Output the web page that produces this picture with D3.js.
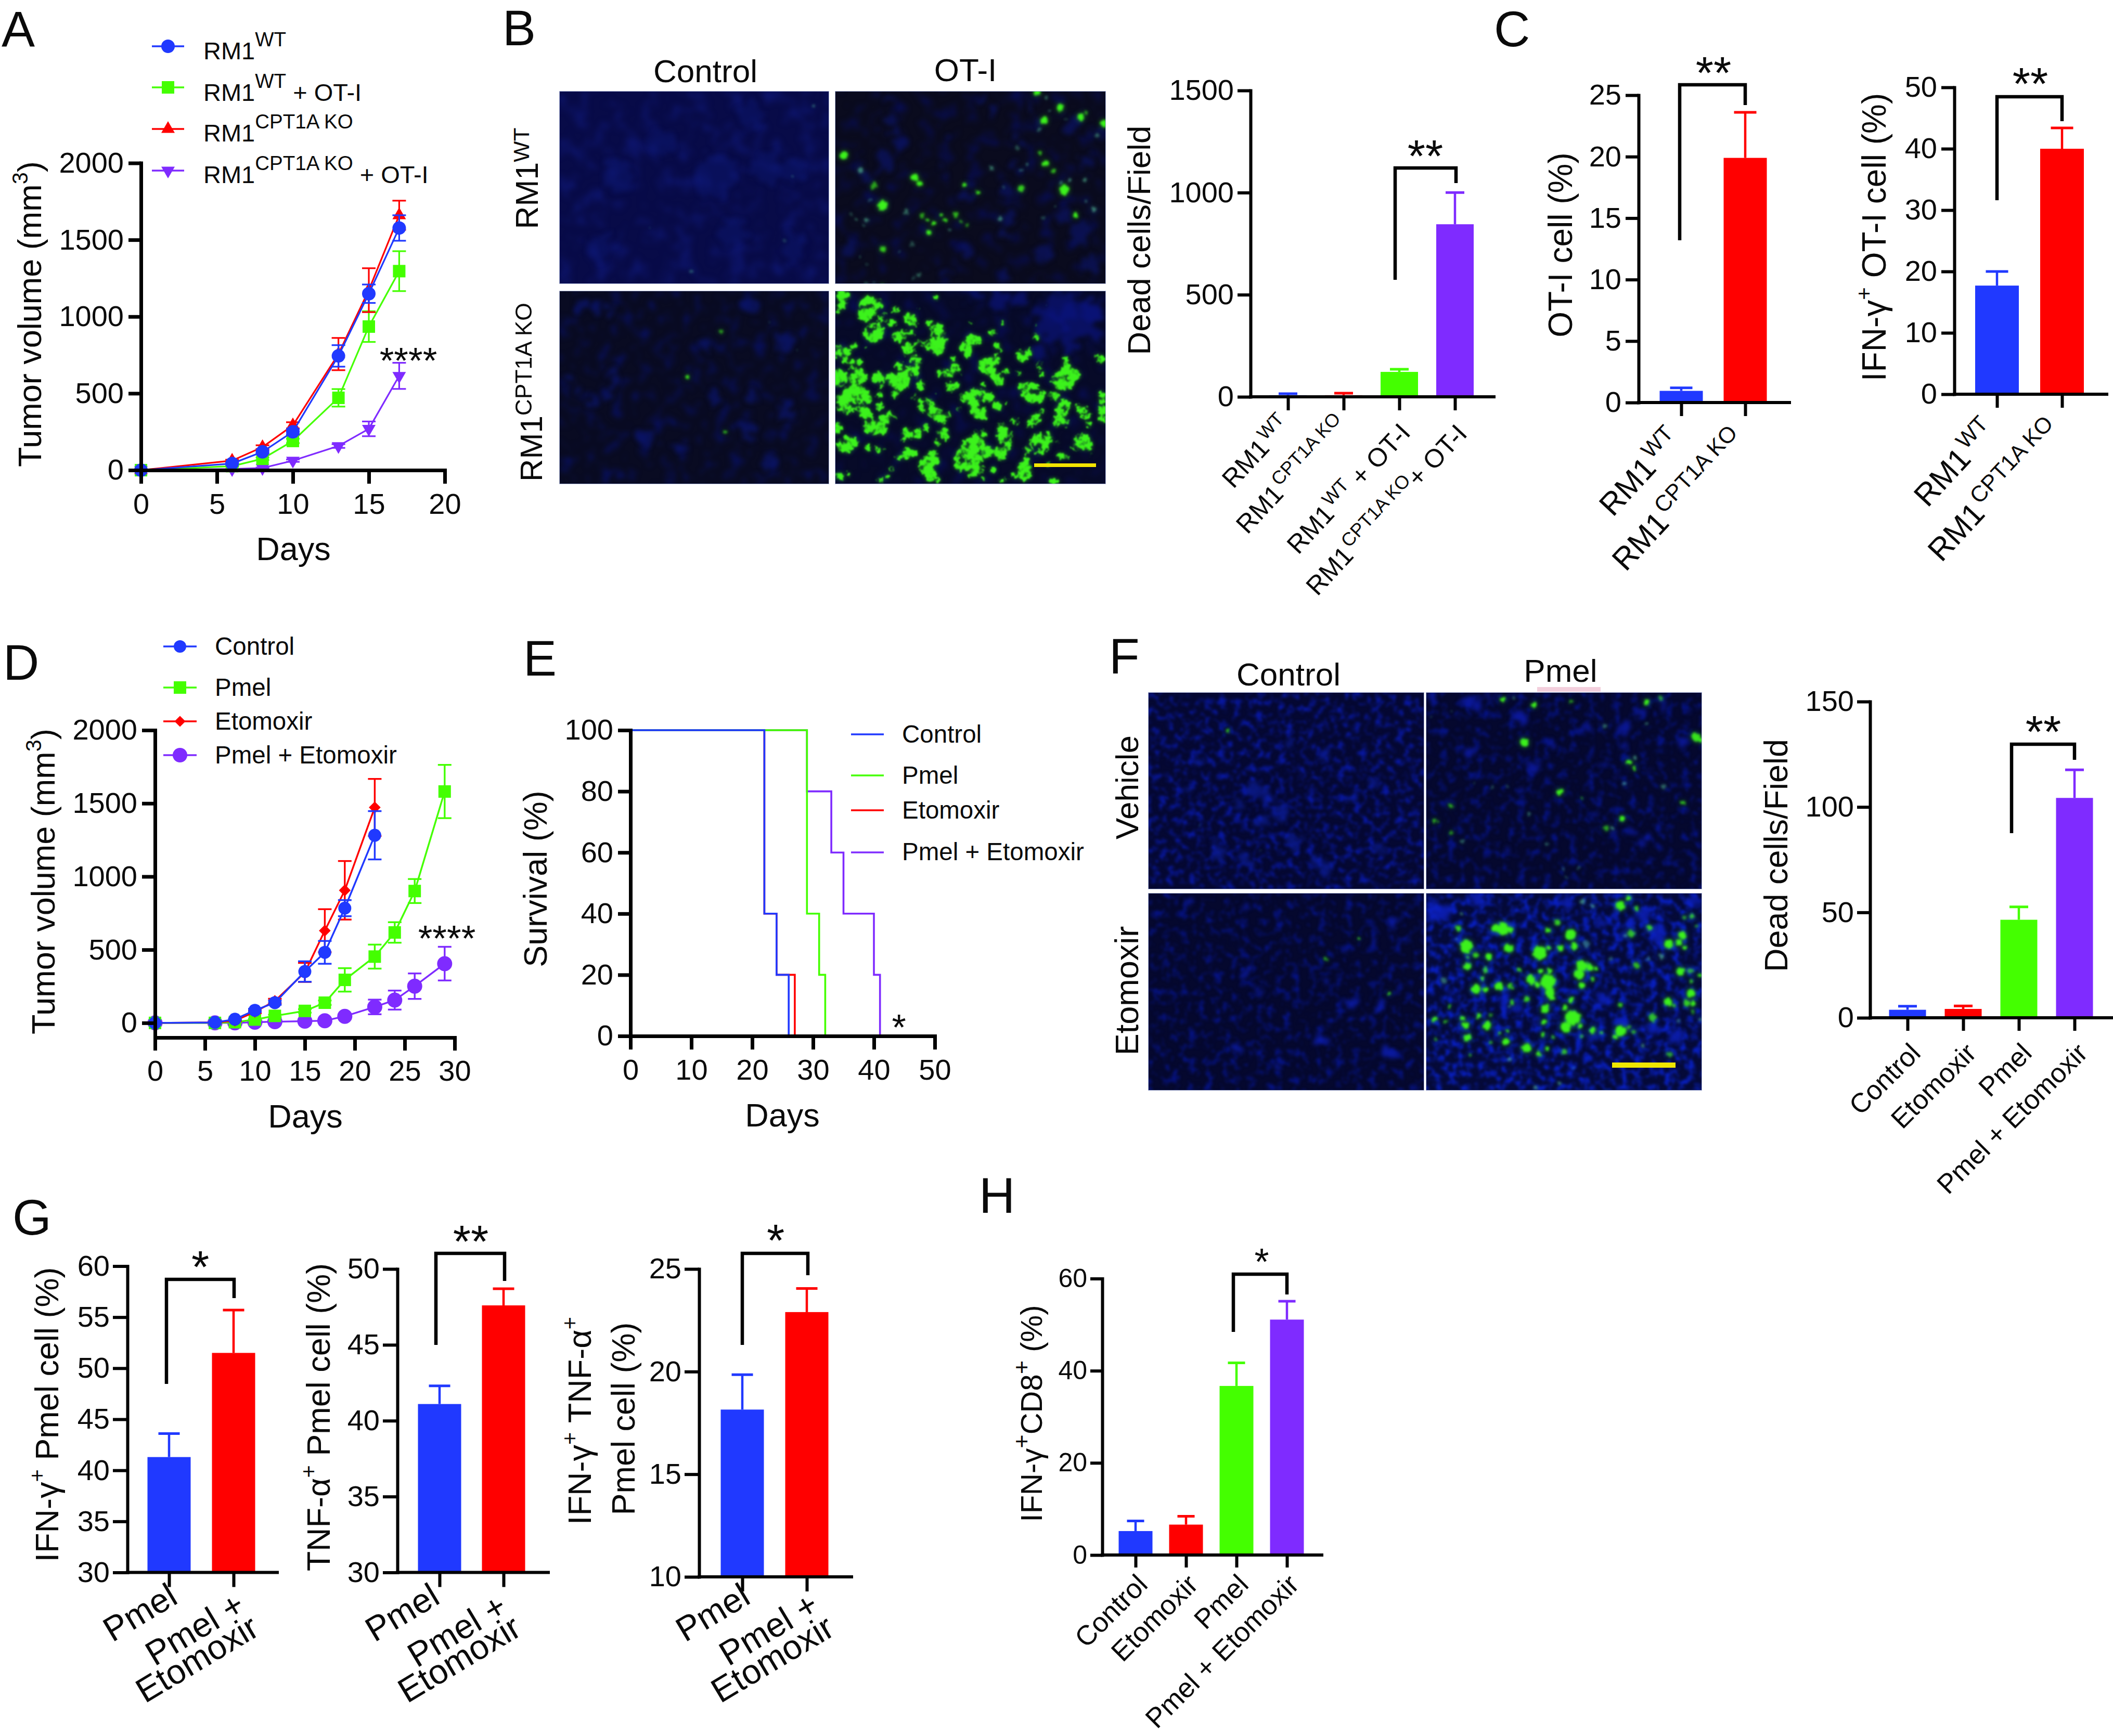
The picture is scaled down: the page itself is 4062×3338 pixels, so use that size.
<!DOCTYPE html>
<html><head><meta charset="utf-8">
<script src="https://cdn.jsdelivr.net/npm/d3@7"></script>
<style>html,body{margin:0;background:#fff}svg{display:block}text{white-space:pre;font-family:"Liberation Sans",Arial,sans-serif;fill:#0a0a0a}</style>
</head><body><svg id="fig" width="4062" height="3338"></svg>
<script>
// ---------- colours ----------
const BLUE="#2039ff",GREEN="#44ff00",RED="#ff0000",PURPLE="#7f2bff";
// ---------- panel A ----------
const aDays=[0,6,8,10,13,15,17];
const aWT=[0,43,119,250,744,1149,1577],aWTErr=[0,4,10,18,70,60,83];
const aWTOT=[0,26,74,190,471,935,1296],aWTOTErr=[0,3,8,14,57,100,130];
const aKO=[0,62,150,292,756,1172,1660],aKOErr=[0,6,12,20,105,143,95];
const aKOOT=[0,7,14,62,157,269,614],aKOOTErr=[0,1,3,8,12,48,85];
const aLegend=["RM1^{WT}","RM1^{WT} + OT-I","RM1^{CPT1A KO}","RM1^{CPT1A KO} + OT-I"];
// ---------- panel D ----------
const dDays=[0,6,8,10,12,15,17,19,22],dDaysLong=[0,6,8,10,12,15,17,19,22,24,26,29];
const dControl=[0,3,25,86,138,351,482,784,1282],dControlErr=[0,2,5,10,14,70,78,55,165];
const dEto=[0,3,15,75,150,345,630,906,1472],dEtoErr=[0,2,4,9,15,65,147,200,195];
const dPmel=[0,0,5,23,48,82,138,294,453,618,901,1581],dPmelErr=[0,1,2,5,8,12,15,80,82,70,82,182];
const dCombo=[0,0,0,5,8,12,15,45,109,156,251,405],dComboErr=[0,1,1,2,2,3,4,8,50,65,87,115];
const groups=["Control","Pmel","Etomoxir","Pmel + Etomoxir"];
// ---------- panel E ----------
const eControlT=[0,22,24,26],eControlS=[100,40,20,0];
const ePmelT=[0,29,31,32],ePmelS=[100,40,20,0];
const eEtoT=[0,22,24,27],eEtoS=[100,40,20,0];
const eComboT=[0,29,33,35,40,41],eComboS=[100,80,60,40,20,0];
// ---------- bar panels ----------
const bCats=["RM1\u200a^{WT}","RM1\u200a^{CPT1A KO}","RM1\u200a^{WT} + OT-I","RM1\u200a^{CPT1A KO}+ OT-I"];
const bVals=[8,8,122,845],bErrs=[7,10,13,155];
const c1Cats=["RM1\u200a^{WT}","RM1\u200a^{CPT1A KO}"];
const c1Vals=[0.95,19.9],c1Errs=[0.25,3.7];
const c2Vals=[17.7,40.0],c2Errs=[2.3,3.4];
const fCats=["Control","Etomoxir","Pmel","Pmel + Etomoxir"];
const fVals=[3.8,4.2,46.5,104.3],fErrs=[1.7,1.4,6.1,13.3];
const gCats=["Pmel","Pmel +|Etomoxir"];
const g1Vals=[41.3,51.5],g1Errs=[2.3,4.2];
const g2Vals=[41.1,47.6],g2Errs=[1.2,1.1];
const g3Vals=[18.15,22.9],g3Errs=[1.7,1.15];
const hVals=[5.2,6.6,36.7,51.1],hErrs=[2.2,1.8,5.0,4.0];
// ---------- micrograph texture (blobs: x, y, r, opacity; in crop space) ----------
const spotsBTR=[[65,380,22],[468,505,20],[498,540,14],[285,665,28],[1320,578,26],[1165,20,18],[1295,110,20],[1410,162,18],[1205,183,20],[1545,200,20],[1215,428,18],[1260,468,14,.7],[1075,570,20,.8],[830,595,12],[752,550,12],[1383,723,12],[550,822,14],[288,915,18,.8],[235,555,20,.6],[160,465,14,.5],[195,750,13,.5],[420,700,14,.4],[620,722,10],[640,750,10],[580,765,12],[540,750,8],[510,725,10,.6],[700,720,14,.7],[735,755,10,.6],[768,778,10,.6],[668,803,9,.4],[1180,368,12,.7],[1108,433,10,.5],[1075,463,9,.4],[1445,135,10,.6],[1300,535,9,.5],[1352,520,10,.5],[1440,520,13,.5],[1485,685,14,.5],[1445,642,9,.4],[1505,268,10,.4],[1175,233,10,.4],[1235,125,9,.4],[1220,52,8,.4],[905,452,11,.5],[955,742,9,.5],[1050,340,12,.3],[975,562,8,.3],[1270,668,8,.3],[1198,738,9,.3],[135,748,7,.4],[105,715,6,.3],[180,780,8,.3],[215,635,9,.3],[380,930,8,.4],[155,960,7,.3],[455,888,14,.3],[490,1062,11,.4],[458,1083,8,.3],[195,1000,9,.2],[190,1108,9,.3],[235,1108,7,.3],[285,1125,12,.7],[1325,175,8,.3]];
const patchesBTR=[[330,70,20],[340,180,30],[370,240,25],[390,320,30],[295,420,50],[650,480,22],[680,280,18],[920,110,22],[835,65,22],[760,600,40],[1010,740,40],[1000,580,30],[1070,300,25],[1130,100,25],[1170,200,25],[1370,210,40],[1520,240,30],[1410,810,60],[1460,1000,50],[1200,940,50],[760,920,40],[650,1050,25],[980,1070,30],[150,410,25],[190,510,30],[100,900,40],[990,830,25],[1020,450,30],[1450,420,40],[1310,730,40]];
const spotsBBR=[[60,50,35],[50,90,25],[25,120,20],[210,100,55],[180,150,35],[260,80,25],[240,250,50],[200,260,20],[285,165,25],[340,195,20],[360,125,22],[440,170,30],[470,195,15],[545,195,15],[585,50,18,.6],[490,115,15,.6],[370,275,28],[410,260,22],[450,255,15],[595,240,35],[610,290,40],[600,340,35],[550,320,25],[500,310,15],[430,345,30],[480,320,15],[120,320,17],[30,360,35],[75,365,28],[185,335,15,.6],[70,415,14],[110,415,14],[150,415,14],[30,490,30],[90,515,40],[150,500,40],[30,540,25],[110,455,14],[260,530,35],[255,500,25],[325,500,20],[390,530,45],[450,480,40],[470,420,32],[380,440,20],[510,550,28],[360,600,20],[340,540,20],[130,620,70],[60,650,45],[180,620,40],[80,690,22],[190,710,30],[270,670,22],[270,610,15],[230,780,50],[270,760,35],[290,810,20],[320,735,30],[355,740,15],[25,790,28],[75,885,45],[120,875,25],[205,905,17],[260,915,15],[300,915,12],[430,820,28],[480,825,25],[530,790,20],[410,860,15],[380,955,20],[430,935,25],[470,940,15],[470,620,15],[530,660,38],[570,700,30],[620,730,35],[660,720,15],[720,690,15],[610,480,15],[660,480,25],[700,450,22],[690,395,14],[730,485,10],[670,560,25],[710,550,15],[590,600,12,.6],[750,620,25],[810,620,45],[860,610,30],[830,690,40],[860,720,22],[940,670,25],[900,620,20],[980,650,12],[760,330,30],[790,290,25],[830,295,20],[770,380,20],[880,440,40],[930,400,25],[900,480,30],[945,520,28],[850,420,20],[860,545,12],[980,470,15],[910,250,20,.7],[940,320,20,.7],[970,195,18,.7],[960,350,12,.7],[1080,380,30],[1110,360,20],[1060,480,12],[785,195,12,.6],[1150,270,20,.7],[1160,205,12,.6],[1215,90,12,.5],[1180,435,20,.8],[1190,485,15,.8],[1130,590,50],[1180,610,35],[1090,560,25],[1150,740,32],[1125,780,15],[1040,755,22],[1190,700,12],[630,830,35],[600,870,20],[560,970,40],[530,1010,40],[560,1060,30],[600,1090,15],[590,940,15],[800,920,70],[760,970,60],[840,840,35],[880,930,30],[950,940,35],[980,840,40],[960,790,25],[1000,900,20],[720,1010,25],[830,1030,30],[910,1030,20],[790,1060,15],[850,1080,15],[1090,1040,45],[1105,980,20],[1100,925,22],[1040,1060,15],[340,1025,15],[270,1090,16],[310,1065,10],[90,1050,15,.7],[40,1070,25,.7],[1180,880,50],[1210,840,30],[1150,860,20],[1180,920,25],[1320,520,55],[1270,520,25],[1380,490,30],[1260,610,25],[1330,450,20],[1330,405,18,.6],[1310,670,40],[1300,720,30],[1330,770,25],[1270,770,20],[1400,680,18],[1440,710,30],[1460,770,15],[1540,620,30],[1540,690,25],[1535,740,18],[1530,400,20],[1495,385,10],[1430,870,40],[1400,850,20],[1380,905,18],[1460,900,20],[1470,950,15,.6],[1300,950,20,.7],[1280,870,15,.7],[1240,870,15,.7],[1340,960,15,.7],[1260,1100,22],[1230,1000,15,.6],[1000,1090,15],[960,1090,12]];
const patchesBBR=[[1300,100,90],[1400,180,110],[1250,220,90],[1190,120,40],[1480,130,60],[1510,270,35],[1180,350,30],[950,60,50],[800,40,40],[1350,320,40],[1060,70,40]];
const spotsBTL=[[1461,99,8,.4],[1343,499,8,.4],[766,1043,7,.4],[530,794,6,.25],[1296,867,10,.25]];
const patchesBTL=[[900,500,120],[1200,460,90],[1350,470,70],[350,500,90],[600,300,70],[1100,150,70],[1000,820,80],[1350,900,70],[250,900,70]];
const spotsBBL=[[938,243,9,.6],[743,502,11,.9],[961,813,8,.7],[1210,190,5,.4],[1370,350,5,.3]];
const patchesBBL=[[300,470,26],[330,540,26],[290,610,28],[200,640,30],[120,590,28],[60,520,22],[140,90,30],[230,100,30],[300,130,25],[1100,90,50],[1300,300,50],[1100,620,30],[900,620,30],[700,900,35],[500,850,45],[1100,800,50],[1300,700,50],[850,330,35],[1200,980,40]];
const spotsFTR=[[560,298,22],[440,57,14],[612,88,14],[820,68,10,.6],[1240,76,13],[1320,50,14,.6],[1515,268,22,.9],[1545,285,14],[1140,405,14],[1175,380,10,.5],[1172,442,9],[758,572,17],[880,610,7,.6],[1105,723,17],[1443,634,13,.8],[148,650,10,.7],[55,735,10,.7],[78,738,6,.7],[150,800,8,.6],[210,850,10,.4],[585,697,9,.4],[1015,778,14,.6],[1052,775,9,.5],[1115,525,10,.5],[1335,545,10,.4],[685,862,9,.4],[1008,207,10,.4],[1240,192,7,.4],[378,547,9,.35],[465,545,8,.25],[498,50,7,.4],[155,122,6,.3],[40,152,6,.3],[860,997,8,.3],[778,1007,7,.3],[792,1050,6,.3],[1025,1140,9,.5],[955,1125,5,.3],[280,525,6,.2]];
const patchesFTR=[[900,212,30],[1215,132,25],[1120,215,30],[600,440,35],[535,572,20],[710,300,25],[1080,480,20],[1250,450,18],[1120,335,15],[1170,800,25],[1240,850,25],[250,70,30],[290,100,20],[40,55,25],[360,50,20],[530,160,30],[260,345,30],[1440,290,25],[1320,90,25],[460,900,25],[960,710,15],[1480,110,15],[1350,720,15],[1010,410,18],[1060,800,25]];
const spotsFBR=[[235,310,35],[240,425,20],[290,360,14,.8],[360,370,18],[245,375,10,.7],[340,445,15,.8],[400,210,22],[440,215,32],[480,220,15],[470,325,25],[740,180,17,.8],[690,222,12],[815,245,30],[760,322,18],[840,312,20],[645,350,38],[695,322,10],[530,445,10,.8],[650,450,12],[700,450,15],[690,510,40],[595,500,25],[630,530,15],[700,570,25],[715,600,15],[880,420,30],[865,470,28],[880,530,18],[925,430,18],[960,440,10],[940,495,12,.8],[290,550,25],[340,555,15],[415,535,25],[480,535,15,.8],[325,495,10],[110,500,15,.4],[570,608,14,.8],[490,625,14,.8],[820,612,16],[785,655,14],[675,660,22],[830,710,40],[790,765,28],[870,760,15],[800,700,15],[670,730,14],[940,780,15],[990,795,10],[1095,785,28],[1065,820,12],[1095,640,12,.8],[1140,765,10,.6],[1170,790,10,.6],[305,697,15],[215,715,14],[230,755,18],[350,755,22],[370,695,10,.6],[140,650,10,.7],[58,720,14],[118,732,12,.7],[240,822,20],[65,830,8,.6],[420,800,10],[465,785,10],[455,845,18],[370,850,10,.6],[570,880,25],[640,910,14],[685,885,12],[660,805,10],[720,820,10,.7],[880,815,10,.6],[780,900,14,.7],[1370,915,14,.6],[255,920,10,.6],[475,945,10,.5],[190,210,15,.8],[178,268,8,.5],[205,130,8,.5],[1095,85,25],[1140,40,15],[1185,100,12,.8],[885,60,12,.5],[940,90,12,.5],[1155,240,20,.7],[1120,255,10,.5],[1260,208,15,.8],[1365,300,22],[1420,290,15],[1440,250,22],[1455,320,15],[1495,145,12,.8],[1450,150,12,.6],[1520,200,10,.6],[1185,418,18,.7],[1325,368,15,.5],[1430,452,22],[1490,450,14,.6],[1540,475,12,.9],[1490,510,12,.7],[1490,575,22],[1360,620,22],[1395,640,10],[1465,630,18,.8],[1500,630,14],[1500,680,10,.7],[1275,710,22,.7],[1250,380,10,.4],[905,300,20,.35],[1040,385,12,.3],[1545,720,10,.5],[1420,730,8,.4],[1220,865,10,.5],[830,995,6,.3],[755,1075,10,.5],[620,1100,10,.5],[1015,1140,12,.6],[475,650,8,.5]];
const patchesFBR=[[1270,770,40],[640,740,22],[950,820,28],[1075,150,22],[1150,185,28],[990,170,32],[1400,820,40],[60,110,50],[130,120,40],[300,50,50],[520,40,25],[1090,730,35],[800,60,40],[520,660,35],[1300,240,50],[1220,130,40],[1500,60,30],[130,570,20],[440,620,30],[1100,250,30],[1000,600,35]];
const spotsFTL=[[456,232,9,.8],[300,760,6,.2],[640,900,6,.2]];
const patchesFTL=[[600,560,45],[680,600,40],[750,700,40],[520,640,30],[640,740,40],[820,850,40],[400,900,40],[560,950,35],[1000,1000,40],[940,960,30],[240,560,25],[1260,520,30],[1300,900,30],[300,400,25],[1000,380,30],[1150,600,25],[800,300,25]];
const spotsFBL=[[1190,270,7,.8],[1005,383,6,.7],[1359,574,8,.9]];
const patchesFBL=[[1385,180,22],[1263,290,16],[1130,340,18],[1300,640,30],[1130,640,30],[560,450,25],[640,570,22],[520,880,30],[740,980,25],[230,70,22],[560,90,20],[1000,500,22],[1350,900,35],[980,830,30]];

// ---------- helpers ----------
const svg=d3.select("#fig");
const defs=svg.append("defs");
function rich(sel,str,fs,ratio=.66,raise=.42){
  let cur=0;
  str.split(/\^\{(.*?)\}/).forEach((p,i)=>{
    if(!p)return;
    const sup=i%2===1,shift=sup?-raise*fs:0;
    sel.append("tspan").text(p).attr("font-size",sup?fs*ratio:fs).attr("dy",shift-cur);
    cur=shift;
  });
  return sel;
}
function label(x,y,str,fs,anchor="start",rot=0,ratio,raise){
  const t=svg.append("text").attr("text-anchor",anchor).attr("font-size",fs)
    .attr("transform",`translate(${x},${y})`+(rot?` rotate(${rot})`:""));
  return rich(t,str,fs,ratio,raise);
}
const yTitle=(x,y,str,fs=62,ratio,raise)=>label(x,y,str,fs,"middle",-90,ratio,raise);
function stars(xc,yc,str,fs){
  svg.append("text").attr("x",xc).attr("y",yc+.5*fs).attr("text-anchor","middle").attr("font-size",fs).text(str);
}
function styleAxis(g,sw,fs){
  g.attr("font-size",fs).attr("font-family",'"Liberation Sans",Arial,sans-serif');
  g.selectAll("path.domain").attr("stroke","#000").attr("stroke-width",sw).attr("stroke-linecap","square");
  g.selectAll(".tick line").attr("stroke","#000").attr("stroke-width",sw);
  g.selectAll(".tick text").attr("fill","#0a0a0a");
}
function yAxis(scale,x,ticks,{ts=25,pad=8,sw=6.5,fs=56}={}){
  const g=svg.append("g").attr("transform",`translate(${x},0)`)
    .call(d3.axisLeft(scale).tickValues(ticks).tickFormat(d3.format("d")).tickSize(ts).tickPadding(pad).tickSizeOuter(0));
  styleAxis(g,sw,fs);return g;
}
function xAxis(scale,y,ticks,{ts=26,pad=16,sw=6.5,fs=56}={}){
  const g=svg.append("g").attr("transform",`translate(0,${y})`)
    .call(d3.axisBottom(scale).tickValues(ticks).tickFormat(d3.format("d")).tickSize(ts).tickPadding(pad).tickSizeOuter(0));
  styleAxis(g,sw,fs);return g;
}
function symbolPath(kind,size){
  if(kind==="circle")return {d:d3.symbol(d3.symbolCircle,Math.PI*size*size)(),rot:0};
  if(kind==="square")return {d:d3.symbol(d3.symbolSquare,size*size)(),rot:0};
  if(kind==="diamond")return {d:d3.symbol(d3.symbolSquare,size*size)(),rot:45};
  if(kind==="up")return {d:d3.symbol(d3.symbolTriangle,size*size*.433)(),rot:0};
  return {d:d3.symbol(d3.symbolTriangle,size*size*.433)(),rot:180};
}
function mark(g,x,y,kind,size,color){
  const s=symbolPath(kind,size);
  g.append("path").attr("d",s.d).attr("fill",color).attr("transform",`translate(${x},${y}) rotate(${s.rot})`);
}
function lineSeries(x,y,days,vals,errs,color,kind,size,sw=3.4,cap=13){
  const g=svg.append("g");
  const pts=days.map((d,i)=>({d,v:vals[i],e:errs[i]}));
  g.append("path").attr("fill","none").attr("stroke",color).attr("stroke-width",sw)
    .attr("d",d3.line().x(p=>x(p.d)).y(p=>y(p.v))(pts));
  pts.forEach(p=>{
    if(p.e>0){
      const X=x(p.d);
      const lines=[[X,y(p.v+p.e),X,y(p.v-p.e)],[X-cap,y(p.v+p.e),X+cap,y(p.v+p.e)],[X-cap,y(p.v-p.e),X+cap,y(p.v-p.e)]];
      lines.forEach(l=>g.append("line").attr("x1",l[0]).attr("y1",l[1]).attr("x2",l[2]).attr("y2",l[3]).attr("stroke",color).attr("stroke-width",sw));
    }
    mark(g,x(p.d),y(p.v),kind,size,color);
  });
}
function legendRow(y,baseline,x1,x2,xm,xt,str,color,kind,size,fs,ratio,raise){
  svg.append("line").attr("x1",x1).attr("x2",x2).attr("y1",y).attr("y2",y).attr("stroke",color).attr("stroke-width",3.4);
  if(kind)mark(svg,xm,y,kind,size,color);
  label(xt,baseline,str,fs,"start",0,ratio,raise);
}
function bracket(l,r,top,lb,rb,sw=6.5){
  svg.append("path").attr("fill","none").attr("stroke","#000").attr("stroke-width",sw).attr("stroke-linejoin","miter")
    .attr("d",d3.line()([[l,lb],[l,top],[r,top],[r,rb]]));
}
function barChart(o){
  const y=d3.scaleLinear().domain(o.domain).range([o.y0,o.yTop]);
  const x=d3.scalePoint().domain(o.cats).range(o.catRange);
  o.vals.forEach((v,i)=>{
    const X=x(o.cats[i]),c=o.colors[i],top=y(v+o.errs[i]);
    svg.append("line").attr("x1",X).attr("x2",X).attr("y1",y(v)).attr("y2",top).attr("stroke",c).attr("stroke-width",o.errSw||4.5);
    svg.append("line").attr("x1",X-o.cap/2).attr("x2",X+o.cap/2).attr("y1",top).attr("y2",top).attr("stroke",c).attr("stroke-width",5);
    svg.append("rect").attr("x",X-o.barW/2).attr("width",o.barW).attr("y",y(v)).attr("height",o.y0-y(v)).attr("fill",c);
  });
  yAxis(y,o.axisX,o.ticks,{ts:o.ts||25,pad:o.pad||8,fs:o.fs||56,sw:6});
  const xg=svg.append("g").attr("transform",`translate(0,${o.y0})`)
    .call(d3.axisBottom(x).tickSize(o.xts||26).tickFormat("").tickSizeOuter(0));
  styleAxis(xg,6,o.fs||56);
  xg.select("path.domain").attr("d",`M${o.axisX},0H${o.xEnd}`);
  xg.selectAll(".tick text").remove();
  if(o.labelFs) o.cats.forEach((c,i)=>{
    const off=o.labelOff?o.labelOff[i]:[0,0];
    label(x(c)+off[0],o.labelY+off[1],c,o.labelFs,"end",o.labelRot||-45,o.labelRatio||.72,.38);
  });
  return {x,y};
}
// ---- micrographs ----
function noiseFilter(id,freq,seed,rgb,k,t,blur,oct=3){
  const f=defs.append("filter").attr("id",id).attr("x",0).attr("y",0).attr("width","100%").attr("height","100%")
    .attr("color-interpolation-filters","sRGB");
  f.append("feTurbulence").attr("type","fractalNoise").attr("baseFrequency",freq).attr("numOctaves",oct).attr("seed",seed);
  f.append("feColorMatrix").attr("type","matrix")
    .attr("values",`0 0 0 0 ${rgb[0]} 0 0 0 0 ${rgb[1]} 0 0 0 0 ${rgb[2]} ${k} 0 0 0 ${-t}`);
  f.append("feGaussianBlur").attr("stdDeviation",blur);
}
function softFilter(id,freq,scale,core,halo,goo){
  const f=defs.append("filter").attr("id",id).attr("x","-10%").attr("y","-10%").attr("width","120%").attr("height","120%").attr("color-interpolation-filters","sRGB");
  f.append("feTurbulence").attr("type","fractalNoise").attr("baseFrequency",freq).attr("numOctaves",2).attr("seed",4).attr("result","n");
  let src="SourceGraphic";
  if(goo){
    f.append("feGaussianBlur").attr("in",src).attr("stdDeviation",goo).attr("result","b");
    f.append("feColorMatrix").attr("in","b").attr("type","matrix").attr("values","1 0 0 0 0 0 1 0 0 0 0 0 1 0 0 0 0 0 9 -3.2").attr("result","g");
    // ragged holes punched through the clusters
    f.append("feTurbulence").attr("type","fractalNoise").attr("baseFrequency",.075).attr("numOctaves",2).attr("seed",17).attr("result","hn");
    f.append("feColorMatrix").attr("in","hn").attr("type","matrix").attr("values","0 0 0 0 1 0 0 0 0 1 0 0 0 0 1 9 0 0 0 -3.3").attr("result","mask");
    f.append("feComposite").attr("in","g").attr("in2","mask").attr("operator","in").attr("result","gm");
    src="gm";
  }
  f.append("feDisplacementMap").attr("in",src).attr("in2","n").attr("scale",scale).attr("xChannelSelector","R").attr("yChannelSelector","G").attr("result","d");
  f.append("feGaussianBlur").attr("in","d").attr("stdDeviation",halo).attr("result","h");
  f.append("feComponentTransfer").attr("in","h").attr("result","h2").append("feFuncA").attr("type","linear").attr("slope",.6);
  f.append("feGaussianBlur").attr("in","d").attr("stdDeviation",core).attr("result","c");
  const m=f.append("feMerge");m.append("feMergeNode").attr("in","h2");m.append("feMergeNode").attr("in","c");
}
softFilter("greenSoft",.14,9,2.3,6);
softFilter("greenDense",.14,15,1.5,4,2.6);
const bs=defs.append("filter").attr("id","blueSoft").attr("x","-10%").attr("y","-10%").attr("width","120%").attr("height","120%").attr("color-interpolation-filters","sRGB");
bs.append("feTurbulence").attr("type","fractalNoise").attr("baseFrequency",.05).attr("numOctaves",3).attr("seed",9).attr("result","n");
bs.append("feDisplacementMap").attr("in","SourceGraphic").attr("in2","n").attr("scale",40).attr("xChannelSelector","R").attr("yChannelSelector","G").attr("result","d");
bs.append("feGaussianBlur").attr("in","d").attr("stdDeviation",4.5);
noiseFilter("nB1",.03,3,[.05,.08,.42],3,1.45,5);
noiseFilter("nB2",.035,8,[.03,.05,.32],3,1.55,4);
noiseFilter("nB3",.04,12,[.03,.06,.36],3,1.55,4);
noiseFilter("nF1",.07,21,[.03,.09,.62],3.2,1.5,2.2);
noiseFilter("nF2",.06,33,[.02,.07,.5],3.2,1.58,2.2);
noiseFilter("nF3",.07,41,[.03,.12,.75],3.2,1.4,2);
let clipN=0;
function micro(x,y,w,h,ox,oy,scale,base,noise,patches,spots,opt={}){
  const id="clip"+(clipN++);
  defs.append("clipPath").attr("id",id).append("rect").attr("x",x).attr("y",y).attr("width",w).attr("height",h);
  const g=svg.append("g").attr("clip-path",`url(#${id})`);
  g.append("rect").attr("x",x).attr("y",y).attr("width",w).attr("height",h).attr("fill",base);
  g.append("rect").attr("x",x).attr("y",y).attr("width",w).attr("height",h).attr("filter",`url(#${noise})`);
  const pg=g.append("g").attr("filter","url(#blueSoft)").append("g").attr("transform",`translate(${ox},${oy}) scale(${scale})`);
  patches.forEach(p=>pg.append("circle").attr("cx",p[0]).attr("cy",p[1]).attr("r",p[2]).attr("fill",opt.patch||"#0c1a78").attr("opacity",opt.patchOp||.65));
  const sg=g.append("g").attr("filter",`url(#${opt.dense?"greenDense":"greenSoft"})`).append("g").attr("transform",`translate(${ox},${oy}) scale(${scale})`);
  const rs=opt.rScale||1;
  spots.forEach(p=>{
    const o=p[3]===undefined?1:p[3];
    sg.append("circle").attr("cx",p[0]).attr("cy",p[1]).attr("r",p[2]*rs).attr("fill",o<.6?"#5fd8a8":(opt.green||"#3cf21c")).attr("opacity",o);
  });
  g.append("rect").attr("x",x).attr("y",y).attr("width",w).attr("height",h).attr("fill","none").attr("stroke","#aab4d8").attr("stroke-width",2);
}
function xTitleAt(x,y,s){svg.append("text").attr("x",x).attr("y",y).attr("text-anchor","middle").attr("font-size",63).text(s);}
// ---------- Panel letters ----------
[["A",3,89],["B",966,87],["C",2872,89],["D",6,1307],["E",1006,1299],["F",2132,1295],["G",24,2374],["H",1882,2332]]
  .forEach(d=>svg.append("text").attr("x",d[1]).attr("y",d[2]).attr("font-size",96).text(d[0]));

// ---------- Panel A ----------
{
  const x=d3.scaleLinear().domain([0,20]).range([271,855]);
  const y=d3.scaleLinear().domain([0,2000]).range([904,313.5]);
  lineSeries(x,y,aDays,aKOOT,aKOOTErr,PURPLE,"down",26,3.2);
  lineSeries(x,y,aDays,aWTOT,aWTOTErr,GREEN,"square",24,3.2);
  lineSeries(x,y,aDays,aKO,aKOErr,RED,"up",26,3.2);
  lineSeries(x,y,aDays,aWT,aWTErr,BLUE,"circle",13,3.2);
  yAxis(y,271,d3.range(0,2001,500),{ts:24,pad:9,sw:7});
  xAxis(x,904,d3.range(0,21,5),{ts:26,pad:18,sw:7});
  yTitle(79,604,"Tumor volume (mm^{3})",63);
  xTitleAt(564,1077,"Days");
  stars(785,682,"****",71);
  const kinds=[["circle",13,BLUE],["square",24,GREEN],["up",26,RED],["down",26,PURPLE]];
  const rows=[[89,114],[168,194],[248,272],[328,352]];
  aLegend.forEach((s,i)=>legendRow(rows[i][0],rows[i][1],292,354,323,391,s,kinds[i][2],kinds[i][0],kinds[i][1],47,.82,.54));
}
// ---------- Panel B micrographs ----------
const bS=530/1568;
micro(1075,175,519,371,1070,170,bS,"#080b48","nB1",patchesBTL,spotsBTL,{patchOp:.4});
micro(1605,175,521,371,1600,170,bS,"#0a0b1e","nB2",patchesBTR,spotsBTR,{patch:"#0a1468"});
micro(1075,559,519,372,1070,555,bS,"#090b22","nB3",patchesBBL,spotsBBL,{patch:"#0b1570"});
micro(1605,559,521,372,1600,555,bS,"#070a28","nB2",patchesBBR,spotsBBR,{dense:true,patch:"#0a1480",rScale:1.05});
svg.append("rect").attr("x",1988).attr("y",891).attr("width",119).attr("height",7).attr("fill","#f4e400");
svg.append("text").attr("x",1356).attr("y",158).attr("text-anchor","middle").attr("font-size",62).text("Control");
svg.append("text").attr("x",1856).attr("y",156).attr("text-anchor","middle").attr("font-size",62).text("OT-I");
label(1034,343,"RM1^{WT}",61,"middle",-90,.7,.28);
label(1042,754,"RM1^{CPT1A KO}",60,"middle",-90,.74,.34);
// ---------- Panel B bar chart ----------
barChart({domain:[0,1500],y0:763,yTop:174,axisX:2404,xEnd:2872,cats:bCats,catRange:[2476,2797],barW:72,vals:bVals,errs:bErrs,colors:[BLUE,RED,GREEN,PURPLE],cap:36,ticks:[0,500,1000,1500],labelFs:50,labelY:826,labelRot:-47,labelOff:[[8,-6],[10,-6],[24,8],[26,10]],xts:26,pad:7});
bracket(2682,2799,323,538,352);
stars(2740,286,"**",88);
yTitle(2211,462,"Dead cells/Field");
// ---------- Panel C ----------
barChart({domain:[0,25],y0:774,yTop:183,axisX:3150,xEnd:3440,cats:c1Cats,catRange:[3232,3355],barW:83,vals:c1Vals,errs:c1Errs,colors:[BLUE,RED],cap:43,ticks:[0,5,10,15,20,25],labelFs:60,labelY:850,labelRot:-47,labelOff:[[4,0],[4,0]],xts:26});
bracket(3229,3355,163,462,202);
stars(3294,126,"**",88);
yTitle(3022,471,"OT-I cell (%)",64);
barChart({domain:[0,50],y0:758,yTop:168,axisX:3757,xEnd:4050,cats:c1Cats,catRange:[3839,3964],barW:84,vals:c2Vals,errs:c2Errs,colors:[BLUE,RED],cap:43,ticks:[0,10,20,30,40,50],labelFs:60,labelY:832,labelRot:-47,labelOff:[[2,0],[2,0]],xts:26});
bracket(3839,3964,186,385,233);
stars(3903,147,"**",88);
yTitle(3625,456,"IFN-γ^{+} OT-I cell (%)",64);
// ---------- Panel D ----------
{
  const x=d3.scaleLinear().domain([0,30]).range([298,874]);
  const y=d3.scaleLinear().domain([-100,2000]).range([1995,1404]);
  lineSeries(x,y,dDaysLong,dCombo,dComboErr,PURPLE,"circle",14.5);
  lineSeries(x,y,dDaysLong,dPmel,dPmelErr,GREEN,"square",24);
  lineSeries(x,y,dDays,dEto,dEtoErr,RED,"diamond",16);
  lineSeries(x,y,dDays,dControl,dControlErr,BLUE,"circle",12.5);
  yAxis(y,298,d3.range(0,2001,500),{ts:25,pad:9,sw:7});
  xAxis(x,1995,d3.range(0,31,5),{ts:25,pad:18,sw:7});
  yTitle(105,1695,"Tumor volume (mm^{3})",63);
  xTitleAt(587,2168,"Days");
  stars(859,1793,"****",71);
  const kinds=[["circle",12,BLUE],["square",24,GREEN],["diamond",15,RED],["circle",14,PURPLE]];
  const rows=[[1243,1259],[1322,1338],[1387,1403],[1452,1468]];
  groups.forEach((s,i)=>legendRow(rows[i][0],rows[i][1],314,378,346,413,s,kinds[i][2],kinds[i][0],kinds[i][1],47.5));
}
// ---------- Panel E ----------
{
  const x=d3.scaleLinear().domain([0,50]).range([1212,1797]);
  const y=d3.scaleLinear().domain([0,100]).range([1992,1404]);
  const step=d3.line().curve(d3.curveStepAfter).x(d=>x(d[0])).y(d=>y(d[1]));
  [[eEtoT,eEtoS,RED],[eComboT,eComboS,PURPLE],[ePmelT,ePmelS,GREEN],[eControlT,eControlS,BLUE]].forEach(s=>{
    svg.append("path").attr("fill","none").attr("stroke",s[2]).attr("stroke-width",3.6)
      .attr("d",step(s[0].map((t,i)=>[t,s[1][i]])));
  });
  yAxis(y,1212,d3.range(0,101,20),{ts:24,pad:9,sw:7});
  xAxis(x,1992,d3.range(0,51,10),{ts:26,pad:18,sw:7});
  yTitle(1051,1690,"Survival (%)",63);
  xTitleAt(1504,2166,"Days");
  stars(1728,1965,"*",70);
  const rows=[[1412,1428],[1491,1507],[1558,1574],[1639,1654]],cols=[BLUE,GREEN,RED,PURPLE];
  groups.forEach((s,i)=>legendRow(rows[i][0],rows[i][1],1636,1699,0,1734,s,cols[i],null,0,47.5));
}
// ---------- Panel F micrographs ----------
const fS=540/1568;
svg.append("rect").attr("x",2955).attr("y",1321).attr("width",122).attr("height",9).attr("fill","#f3cfdc");
micro(2207,1331,531,379,2203,1325,fS,"#050832","nF1",patchesFTL,spotsFTL,{patch:"#0c1ea0"});
micro(2741,1331,531,379,2738,1325,fS,"#05082e","nF2",patchesFTR,spotsFTR,{patch:"#0c1cb0",patchOp:.8});
micro(2207,1717,531,380,2203,1712,fS,"#05082e","nF2",patchesFBL,spotsFBL,{patch:"#0d1eb8",patchOp:.8});
micro(2741,1717,531,380,2738,1712,fS,"#050a38","nF3",patchesFBR,spotsFBR,{patch:"#0d20c0",patchOp:.8});
svg.append("rect").attr("x",3099).attr("y",2043).attr("width",122).attr("height",10).attr("fill","#efe600");
svg.append("text").attr("x",2477).attr("y",1318).attr("text-anchor","middle").attr("font-size",62).text("Control");
svg.append("text").attr("x",3000).attr("y",1311).attr("text-anchor","middle").attr("font-size",62).text("Pmel");
label(2188,1514,"Vehicle",62,"middle",-90);
label(2188,1905,"Etomoxir",63,"middle",-90);
// ---------- Panel F bar chart ----------
barChart({domain:[0,150],y0:1957,yTop:1349,axisX:3595,xEnd:4062,cats:fCats,catRange:[3667,3988],barW:71,vals:fVals,errs:fErrs,colors:[BLUE,RED,GREEN,PURPLE],cap:36,ticks:[0,50,100,150],labelFs:52,labelY:2028,labelOff:[[28,0],[28,0],[28,0],[28,0]],xts:25,pad:6});
bracket(3867,3988,1431,1602,1461);
stars(3928,1393,"**",88);
yTitle(3436,1645,"Dead cells/Field",63);
// ---------- Panel G ----------
function gChart(o){
  const r=barChart(Object.assign({cats:gCats,barW:83,colors:[BLUE,RED],cap:41,ts:28,pad:6,xts:28},o));
  const lab=(s,x,y)=>svg.append("text").attr("text-anchor","end").attr("dominant-baseline","middle")
     .attr("transform",`translate(${x},${y}) rotate(-31)`).attr("font-size",66).text(s);
  lab(gCats[0],r.x(gCats[0])+o.off[0],o.ly[0]);
  gCats[1].split("|").forEach((s,i)=>lab(s,r.x(gCats[1])+o.off[i+1],o.ly[i+1]));
  return r;
}
gChart({domain:[30,60],y0:3023.5,yTop:2434.5,axisX:245,xEnd:533,catRange:[325,449],vals:g1Vals,errs:g1Errs,ticks:d3.range(30,61,5),off:[11,17,44],ly:[3066,3083,3127]});
bracket(320,450,2460,2661,2496);
stars(385,2422,"*",88);
yTitle(112,2720,"IFN-γ^{+} Pmel cell (%)",63);
gChart({domain:[30,50],y0:3023.5,yTop:2440,axisX:764,xEnd:1054,catRange:[845,968],vals:g2Vals,errs:g2Errs,ticks:d3.range(30,51,5),off:[-5,2,29],ly:[3066,3086,3127]});
bracket(838,970,2410,2586,2463);
stars(905,2373,"**",88);
yTitle(634,2725,"TNF-α^{+} Pmel cell (%)",63);
gChart({domain:[10,25],y0:3032,yTop:2440,axisX:1344,xEnd:1637,catRange:[1427,1551],vals:g3Vals,errs:g3Errs,ticks:[10,15,20,25],off:[10,18,48],ly:[3066,3083,3127]});
bracket(1427,1553,2410,2586,2452);
stars(1491,2371,"*",88);
yTitle(1136,2732,"IFN-γ^{+} TNF-α^{+}",63);
yTitle(1220,2728,"Pmel cell (%)",63);
// ---------- Panel H ----------
barChart({domain:[0,60],y0:2990,yTop:2458.5,axisX:2119,xEnd:2541,cats:fCats,catRange:[2183,2474],barW:65,vals:hVals,errs:hErrs,colors:[BLUE,RED,GREEN,PURPLE],cap:33,ticks:[0,20,40,60],labelFs:53,labelY:3050,labelOff:[[26,0],[26,0],[26,0],[26,0]],xts:24,ts:23,pad:6,fs:50});
bracket(2371,2474,2450,2561,2489);
stars(2425.5,2415,"*",72);
yTitle(2003,2718,"IFN-γ^{+}CD8^{+} (%)",58,.78,.42);
</script></body></html>
